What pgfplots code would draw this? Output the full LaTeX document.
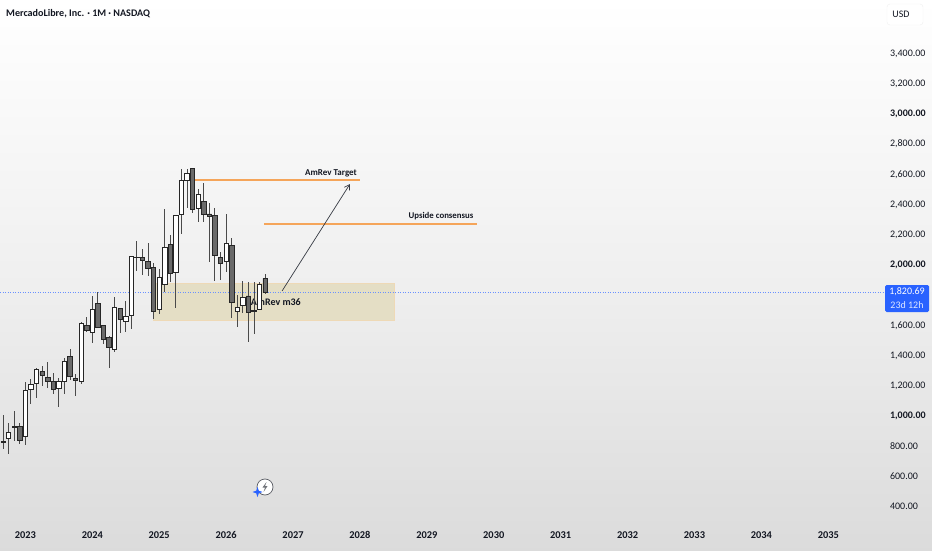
\documentclass[border=0pt]{standalone}
\usepackage{pgfplots}
\usepackage{pgfplotstable}
\usepackage{fontspec}
\setmainfont{Carlito}
\usetikzlibrary{arrows.meta}
\pgfplotsset{compat=1.18}
\definecolor{wick}{HTML}{4A4A4A}
\definecolor{darkbody}{HTML}{6A6A6A}
\definecolor{orangeln}{HTML}{F5A55A}
\definecolor{zonefill}{HTML}{E4DEC5}
\definecolor{zoneline}{HTML}{EED9B6}
\definecolor{tvblue}{HTML}{2962FF}
\definecolor{ink}{HTML}{131722}
\pgfplotstableread{
m low bb bt high up
-4 781 826 831 1007 0
-3 748 850 894 956 1
-2 834 927 932 1033 0
-1 812 837 929 951 0
0 808 863 1172 1227 1
1 1079 1177 1212 1243 1
2 1117 1214 1311 1316 1
3 1199 1272 1296 1331 0
4 1185 1232 1256 1358 0
5 1146 1177 1232 1287 0
6 1057 1181 1230 1252 1
7 1144 1232 1364 1382 1
8 1238 1260 1393 1444 0
9 1135 1234 1247 1278 0
10 1210 1232 1614 1620 1
11 1558 1565 1600 1653 0
12 1481 1556 1704 1795 1
13 1581 1587 1746 1819 0
14 1477 1508 1598 1603 0
15 1320 1455 1521 1530 0
16 1426 1442 1720 1786 1
17 1547 1638 1711 1717 0
18 1558 1629 1662 1759 1
19 1576 1669 2055 2055 1
20 1963 2050 2053 2159 0
21 1934 2033 2053 2104 0
22 1929 1978 2024 2144 0
23 1640 1695 1982 2011 0
24 1676 1709 1918 1971 1
25 1823 1874 2117 2369 1
26 1885 1945 2137 2199 0
27 1717 1951 2327 2327 1
28 2205 2336 2559 2634 1
29 2375 2559 2607 2634 1
30 2342 2371 2640 2640 0
31 2283 2375 2468 2503 1
32 2283 2336 2419 2545 0
33 2018 2320 2338 2408 0
34 1894 2066 2327 2380 0
35 1901 2011 2051 2084 0
36 1956 2022 2143 2338 1
37 1651 1751 2128 2181 0
38 1592 1691 1722 1801 1
39 1680 1735 1786 1896 1
40 1488 1687 1795 1885 0
41 1541 1695 1702 1890 0
42 1709 1709 1872 1890 1
43 1806 1817 1912 1940 0
}\candles
\begin{document}
\begin{tikzpicture}[x=1pt,y=1pt]
\path[use as bounding box] (0,0) rectangle (932,550);
\shade[top color=white, bottom color=black!14, middle color=black!6] (0,0) rectangle (932,550);
\begin{axis}[
  at={(0,0)}, anchor=south west,
  width=932pt, height=550pt, scale only axis,
  xmin=-4.556, xmax=162.6, ymin=113, ymax=3755,
  axis line style={draw=none},
  major tick length=0pt,
  ybar stacked, reverse stacked plots=false, bar width=4.4pt,
  xtick={0,12,...,144},
  xticklabels={2023,2024,2025,2026,2027,2028,2029,2030,2031,2032,2033,2034,2035},
  x tick label style={yshift=23pt, text height=8pt, text depth=0pt, font=\fontsize{10.4}{12}\selectfont\bfseries, text=ink},
  yticklabel pos=right,
  ytick={400,600,800,1000,1200,1400,1600,2000,2200,2400,2600,2800,3000,3200,3400},
  yticklabels={{400.00},{600.00},{800.00},{\textbf{1,000.00}},{1,200.00},{1,400.00},{1,600.00},{\textbf{2,000.00}},{2,200.00},{2,400.00},{2,600.00},{2,800.00},{\textbf{3,000.00}},{3,200.00},{3,400.00}},
  y tick label style={anchor=west, xshift=-45.5pt, font=\fontsize{10}{12}\selectfont, text=ink},
  plain/.style={stack plots=false, sharp plot, forget plot},
]
% demand zone
\addplot[plain, fill=zonefill, draw=zoneline, line width=0.8pt] coordinates {(23,1636) (66.1,1636) (66.1,1881) (23,1881)} -- cycle;
% last price line
\addplot[plain, draw=tvblue!70, line width=0.7pt, dash pattern=on 1pt off 1.5pt] coordinates {(-4.556,1820.69) (154.2,1820.69)};
% horizontal levels
\addplot[plain, draw=orangeln, line width=1.1pt] coordinates {(30,2563) (60,2563)};
\addplot[plain, draw=orangeln, line width=1.1pt] coordinates {(42.8,2272) (81,2272)};
% label hidden partly behind the candles
\addplot[plain, draw=none] coordinates {(40.4,1757)} node[anchor=west, inner sep=0pt, font=\fontsize{10}{11}\selectfont\bfseries, text=ink] {AmRev m36};
% wicks
\addplot[plain, draw=none, mark=none,
  error bars/.cd, y dir=both, y explicit, error mark=none,
  error bar style={draw=wick, line width=1pt}]
  table[x=m, y=bb, y error plus expr=\thisrow{high}-\thisrow{bb}, y error minus expr=\thisrow{bb}-\thisrow{low}] {\candles};
% bodies: bottom of the body, then rising or falling part
\addplot[draw=none, fill=none] table[x=m, y=bb] {\candles};
\addplot[draw=black!85, fill=white, line width=0.8pt] table[x=m, y expr=\thisrow{up}*(\thisrow{bt}-\thisrow{bb})] {\candles};
\addplot[draw=black!85, fill=darkbody, line width=0.8pt] table[x=m, y expr=(1-\thisrow{up})*(\thisrow{bt}-\thisrow{bb})] {\candles};
% arrow
\addplot[plain, draw=ink!85, line width=0.7pt, -{Straight Barb[length=5pt,width=6pt]}] coordinates {(46.03,1828) (58.2,2536)};
\end{axis}
% drawn text over the axis, in pixel positions
\node[font=\fontsize{9}{11}\selectfont\bfseries, text=ink, inner sep=0pt] at (331,377) {AmRev Target};
\node[font=\fontsize{8.8}{11}\selectfont\bfseries, text=ink, inner sep=0pt] at (441,334) {Upside consensus};
\node[anchor=west, font=\fontsize{10.1}{12}\selectfont\bfseries, text=ink, inner sep=0pt] at (6,536) {MercadoLibre, Inc. · 1M · NASDAQ};
\draw[black!6, fill=white, rounded corners=3pt] (887,525) rectangle (923,546);
\node[font=\fontsize{10}{12}\selectfont, text=ink, inner sep=0pt] at (901,535.5) {USD};
\fill[tvblue, rounded corners=1.5pt] (885,238) rectangle (929,265);
\node[font=\fontsize{10}{12}\selectfont, text=white, inner sep=0pt] at (907,258) {1,820.69};
\node[font=\fontsize{10}{12}\selectfont, text=white!85!tvblue, inner sep=0pt] at (907,245) {23d 12h};
% bolt badge
\draw[ink!70, fill=white, line width=0.7pt] (265,63) circle (8);
\fill[ink!60] (266.5,68) -- (262.5,62.5) -- (265,62.5) -- (263.5,58) -- (267.5,64) -- (265,64) -- cycle;
\fill[tvblue] (257.5,63) -- (258.8,59.3) -- (262.5,58) -- (258.8,56.7) -- (257.5,53) -- (256.2,56.7) -- (252.5,58) -- (256.2,59.3) -- cycle;
\end{tikzpicture}
\end{document}
